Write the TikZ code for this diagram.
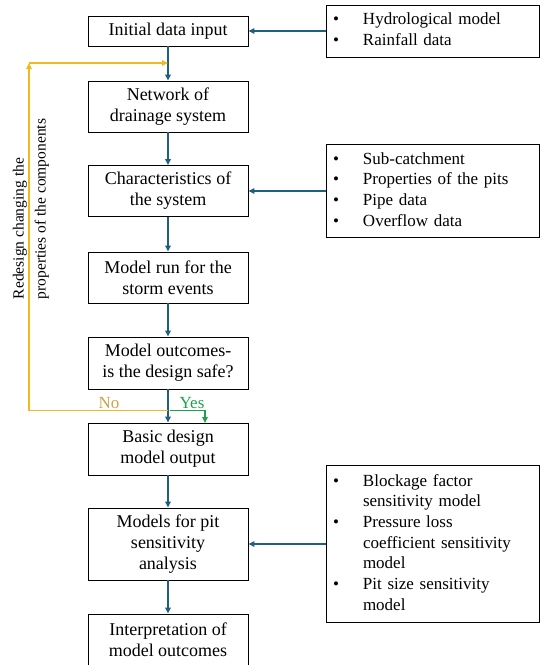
\documentclass[tikz,border=0pt]{standalone}
\usepackage{fontspec}
\setmainfont{Liberation Serif}
\usetikzlibrary{arrows.meta}
\definecolor{blu}{HTML}{1F5F7F}
\definecolor{yel}{HTML}{F2B91E}
\definecolor{noc}{HTML}{C9A44A}
\definecolor{grn}{HTML}{1EA14E}
\tikzset{
  box/.style={draw, line width=0.9pt, minimum width=160pt, align=center, inner sep=2pt,
    font=\fontsize{18}{21}\selectfont},
  rbox/.style={draw, line width=0.9pt, minimum width=213pt, text width=199pt, align=left,
    inner xsep=7pt, font=\fontsize{17}{20.7}\selectfont},
  barrow/.style={draw=blu, line width=1.5pt, -{Triangle[length=6pt,width=5.5pt]}},
  yarrow/.style={draw=yel, line width=1.4pt, -{Triangle[length=6pt,width=5.5pt]}},
  garrow/.style={draw=grn, line width=1.4pt, -{Triangle[length=6pt,width=5.5pt]}},
}
\newcommand{\bl}[1]{\begin{tabular}{@{}p{30pt}@{}l@{}}#1\end{tabular}}
\begin{document}
\begin{tikzpicture}[x=1pt,y=-1pt]
\useasboundingbox (0,0) rectangle (540,665);
% main column
\node[box, minimum height=30pt] (b1) at (168,31) {Initial data input};
\node[box, minimum height=51pt] (b2) at (168,106.5) {Network of\\drainage system};
\node[box, minimum height=51pt] (b3) at (168,191) {Characteristics of\\the system};
\node[box, minimum height=51pt] (b4) at (168,277.5) {Model run for the\\storm events};
\node[box, minimum height=52pt] (b5) at (168,363) {Model outcomes-\\is the design safe?};
\node[box, minimum height=52pt] (b6) at (168,449) {Basic design\\model output};
\node[box, minimum height=72pt] (b7) at (168,544) {Models for pit\\sensitivity\\analysis};
\node[box, minimum height=52pt] (b8) at (168,640) {Interpretation of\\model outcomes};
% right boxes
\node[rbox, minimum height=52pt] (r1) at (432.5,31) {\bl{\textbullet & Hydrological model\\ \textbullet & Rainfall data}};
\node[rbox, minimum height=93pt] (r2) at (432.5,191) {\bl{\textbullet & Sub-catchment\\ \textbullet & Properties of the pits\\ \textbullet & Pipe data\\ \textbullet & Overflow data}};
\node[rbox, minimum height=157pt] (r3) at (432.5,544) {\bl{\textbullet & Blockage factor\\ & sensitivity model\\ \textbullet & Pressure loss\\ & coefficient sensitivity\\ & model\\ \textbullet & Pit size sensitivity\\ & model}};
% blue arrows
\draw[barrow] (b1) -- (b2);
\draw[barrow] (b2) -- (b3);
\draw[barrow] (b3) -- (b4);
\draw[barrow] (b4) -- (b5);
\draw[barrow] (b5) -- (b6);
\draw[barrow] (b6) -- (b7);
\draw[barrow] (b7) -- (b8);
\draw[barrow] (r1.west) -- (b1.east);
\draw[barrow] (r2.west) -- (b3.east);
\draw[barrow] (r3.west) -- (b7.east);
% feedback loop
\coordinate (split) at (168,410.5);
\coordinate (lc) at (29,63);
\coordinate (ytop) at (168,63);
\coordinate (gend) at (205,423);
\draw[yarrow] (split) -| (lc);
\draw[yarrow] (lc) -- (ytop);
\draw[garrow] ([xshift=1.5pt]split) -| (gend);
\node[text=noc, font=\fontsize{17}{19}\selectfont] (no) at (109,403) {No};
\node[text=grn, font=\fontsize{17}{19}\selectfont] (yes) at (192,403) {Yes};
\node[rotate=90, align=left, font=\fontsize{15.5}{22}\selectfont] (redesign) at (31,209) {Redesign changing the\\properties of the components};
\end{tikzpicture}
\end{document}
